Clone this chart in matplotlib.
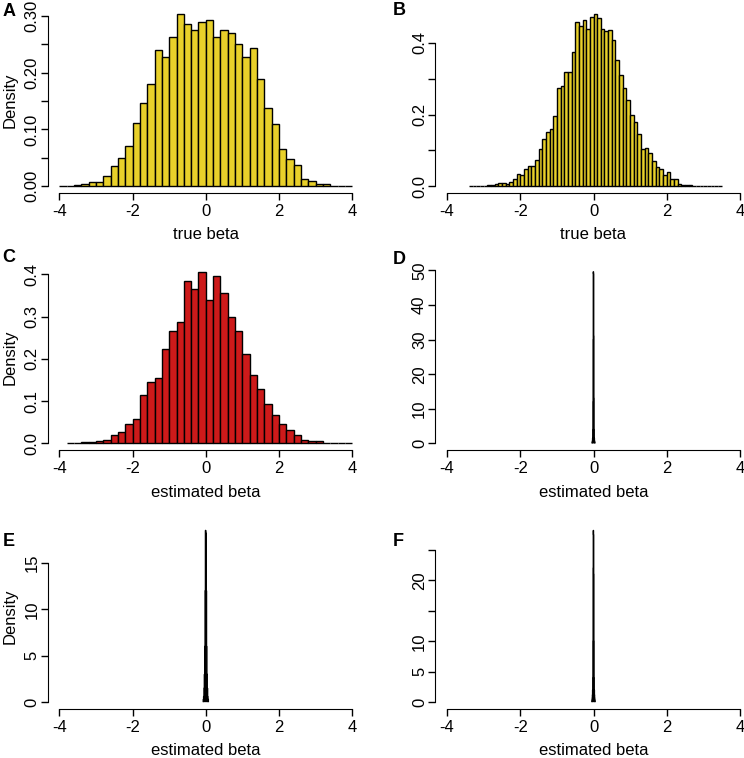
import numpy as np
import matplotlib.pyplot as plt

plt.rcParams['font.family'] = ['Liberation Sans', 'DejaVu Sans']
plt.rcParams['font.size'] = 12

yellow = '#E8D02A'
red = '#CD1A1A'

########## data (densities) ##########

# A: true beta, bins of 0.2 from -4 to 4
a_breaks = np.linspace(-4, 4, 41)
a_dens = [0.0005, 0.001, 0.002, 0.003, 0.007, 0.007, 0.018, 0.035, 0.049, 0.071,
          0.111, 0.147, 0.181, 0.240, 0.228, 0.263, 0.303, 0.286, 0.276, 0.289,
          0.293, 0.263, 0.276, 0.270, 0.250, 0.228, 0.243, 0.189, 0.138, 0.110,
          0.066, 0.048, 0.038, 0.012, 0.009, 0.003, 0.003, 0.001, 0.001, 0.0005]

# B: true beta, bins of 0.1 from -3.4 to 3.5
b_breaks = np.linspace(-3.4, 3.5, 70)
b_dens = [0.0005, 0.0005, 0.0005, 0.001, 0.001, 0.002, 0.002, 0.005, 0.009, 0.009,
          0.007, 0.012, 0.019, 0.035, 0.032, 0.048, 0.055, 0.055, 0.074, 0.104,
          0.132, 0.151, 0.160, 0.195, 0.275, 0.279, 0.319, 0.319, 0.375, 0.460,
          0.448, 0.463, 0.440, 0.473, 0.480, 0.470, 0.440, 0.434, 0.437, 0.407,
          0.352, 0.310, 0.274, 0.242, 0.200, 0.180, 0.146, 0.104, 0.107, 0.092,
          0.070, 0.053, 0.047, 0.032, 0.039, 0.020, 0.020, 0.005, 0.004, 0.004,
          0.003, 0.001, 0.001, 0.001, 0.0005, 0.0005, 0.0005, 0.0005, 0.0005]

# C: estimated beta, bins of 0.2 from -3.8 to 4
c_breaks = np.linspace(-3.8, 4, 40)
c_dens = [0.001, 0.002, 0.003, 0.004, 0.006, 0.007, 0.021, 0.028, 0.046, 0.059,
          0.115, 0.145, 0.154, 0.223, 0.266, 0.288, 0.384, 0.364, 0.406, 0.339,
          0.397, 0.356, 0.299, 0.265, 0.211, 0.162, 0.128, 0.093, 0.067, 0.046,
          0.031, 0.019, 0.009, 0.006, 0.005, 0.002, 0.0008, 0.0015, 0.0008]

# D: estimated beta, very narrow spike
d_breaks = np.linspace(-0.04, 0.04, 17)
d_dens = [0.3, 0.5, 0.8, 1.5, 4, 12, 30, 49.6,
          49, 31, 13, 4, 1.5, 0.8, 0.5, 0.3]

# E: estimated beta
e_breaks = np.linspace(-0.07, 0.07, 15)
e_dens = [0.3, 0.6, 1.5, 3, 6, 12, 18.5, 18.2, 12, 6, 3, 1.5, 0.6, 0.3]

# F: estimated beta
f_breaks = np.linspace(-0.045, 0.045, 19)
f_dens = [0.2, 0.4, 0.7, 1.2, 2, 4, 10, 22, 28.2,
          27.5, 21, 10, 4, 2, 1.2, 0.7, 0.4, 0.2]

########## plotting ##########

W, H = 744, 758
fig = plt.figure(figsize=(W / 100, H / 100), dpi=100)

colx = [47.6 / W, 435.3 / W]
rowy = [0.7454, 0.4059, 0.0646]
aw, ah = 316.4 / W, 0.2447


def panel(col, row, breaks, dens, color, yticks, ylabels, xlabel, ylab, spike=False):
    ax = fig.add_axes([colx[col], rowy[row], aw, ah])
    if spike:
        # narrow spike: draw the outline as one filled step shape
        sp = ax.stairs(dens, breaks, fill=True, facecolor='black',
                       edgecolor='black', linewidth=1.0)
        sp.set_snap(False)
    else:
        ax.bar(breaks[:-1], dens, width=np.diff(breaks), align='edge',
               color=color, edgecolor='black', linewidth=1.0)
    top = max(dens)
    ax.set_xlim(-4.32, 4.32)
    ax.set_ylim(-0.04 * top, 1.04 * top)
    ax.spines['top'].set_visible(False)
    ax.spines['right'].set_visible(False)
    ax.spines['left'].set_bounds(yticks[0], yticks[-1])
    ax.spines['bottom'].set_bounds(-4, 4)
    ax.set_xticks([-4, -2, 0, 2, 4])
    ax.set_xticklabels(['-4', '-2', '0', '2', '4'])
    ax.set_yticks(yticks)
    ax.set_yticklabels(ylabels, rotation=90, va='center')
    ax.tick_params(direction='out', length=5, width=1)
    ax.tick_params(axis='x', pad=3)
    ax.tick_params(axis='y', pad=1)
    ax.set_xlabel(xlabel, labelpad=6)
    if ylab:
        ax.set_ylabel('Density', labelpad=5)
    return ax


panel(0, 0, a_breaks, a_dens, yellow,
      [0, 0.05, 0.1, 0.15, 0.2, 0.25, 0.3],
      ['0.00', '', '0.10', '', '0.20', '', '0.30'], 'true beta', True)
panel(1, 0, b_breaks, b_dens, yellow,
      [0, 0.1, 0.2, 0.3, 0.4], ['0.0', '', '0.2', '', '0.4'], 'true beta', False)
panel(0, 1, c_breaks, c_dens, red,
      [0, 0.1, 0.2, 0.3, 0.4], ['0.0', '0.1', '0.2', '0.3', '0.4'], 'estimated beta', True)
panel(1, 1, d_breaks, d_dens, 'black',
      [0, 10, 20, 30, 40, 50], ['0', '10', '20', '30', '40', '50'],
      'estimated beta', False, spike=True)
panel(0, 2, e_breaks, e_dens, 'black',
      [0, 5, 10, 15], ['0', '5', '10', '15'], 'estimated beta', True, spike=True)
panel(1, 2, f_breaks, f_dens, 'black',
      [0, 5, 10, 15, 20, 25], ['0', '5', '10', '', '20', ''],
      'estimated beta', False, spike=True)

letters = ['A', 'B', 'C', 'D', 'E', 'F']
lx = [9, 399, 9, 399, 8.5, 398.5]
ly = [12, 10.5, 258, 259.5, 541, 541]
for t, x, y in zip(letters, lx, ly):
    fig.text(x / W, 1 - y / H, t, ha='center', va='center',
             fontsize=13, fontweight='bold')

fig.savefig('out.png', dpi=100)
